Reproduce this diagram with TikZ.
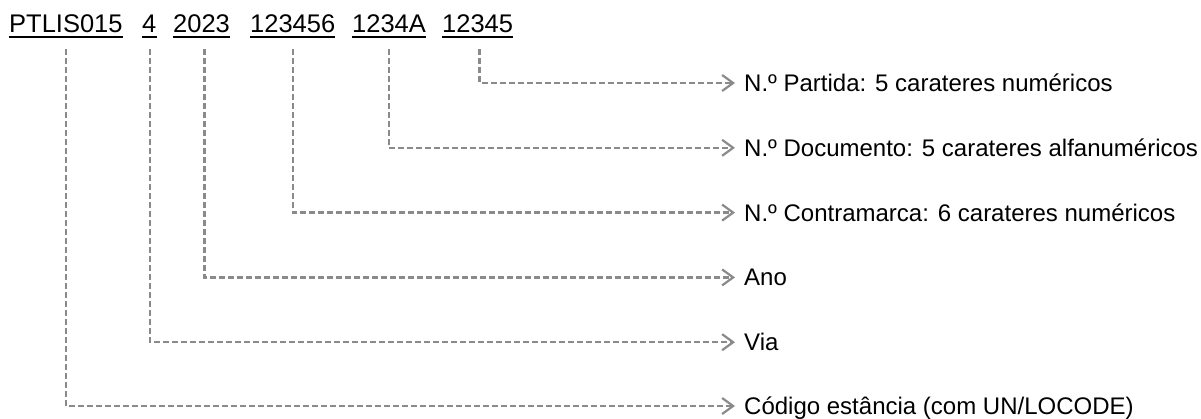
\documentclass[tikz,border=0pt]{standalone}
\usepackage{fontspec}
\setmainfont{Liberation Sans}
\usetikzlibrary{arrows.meta}
\definecolor{lgray}{HTML}{8A8A8A}
\tikzset{
  word/.style={anchor=base west, inner sep=0pt, font=\fontsize{25.5}{30}\selectfont},
  uline/.style={line width=2pt, black},
  lab/.style={anchor=west, inner xsep=9pt, inner ysep=0pt, text height=17pt, text depth=0pt, font=\fontsize{24}{28}\selectfont},
  conn/.style={draw=lgray, line width=2.4pt, dash pattern=on 6pt off 3pt,
    -{Straight Barb[length=11pt,width=16pt,line width=2.2pt]}},
}
\begin{document}
\begin{tikzpicture}[x=1pt,y=-1pt]
\useasboundingbox (0,0) rectangle (1201,418);
% code words
\node[word] (w1) at (9,32) {PTLIS015};
\node[word] (w2) at (142,32) {4};
\node[word] (w3) at (173,32) {2023};
\node[word] (w4) at (250,32) {123456};
\node[word] (w5) at (352,32) {1234A};
\node[word] (w6) at (442,32) {12345};
\foreach \w in {w1,w2,w3,w4,w5,w6}
  \draw[uline] ([yshift=-5pt]\w.base west) -- ([yshift=-5pt]\w.base east);
% labels
\node[lab] (l1) at (735,83) {N.º Partida: 5 carateres numéricos};
\node[lab] (l2) at (735,147.8) {N.º Documento: 5 carateres alfanuméricos};
\node[lab] (l3) at (735,212.6) {N.º Contramarca: 6 carateres numéricos};
\node[lab] (l4) at (735,277.4) {Ano};
\node[lab] (l5) at (735,342.2) {Via};
\node[lab] (l6) at (735,406) {Código estância (com UN/LOCODE)};
% connectors
\draw[conn] ([xshift=2pt,yshift=-17pt]w6.base) |- (l1.west);
\draw[conn] ([yshift=-17pt]w5.base) |- (l2.west);
\draw[conn] ([yshift=-17pt]w4.base) |- (l3.west);
\draw[conn] ([xshift=3pt,yshift=-17pt]w3.base) |- (l4.west);
\draw[conn] ([xshift=1pt,yshift=-17pt]w2.base) |- (l5.west);
\draw[conn] ([yshift=-17pt]w1.base) |- (l6.west);
\end{tikzpicture}
\end{document}
